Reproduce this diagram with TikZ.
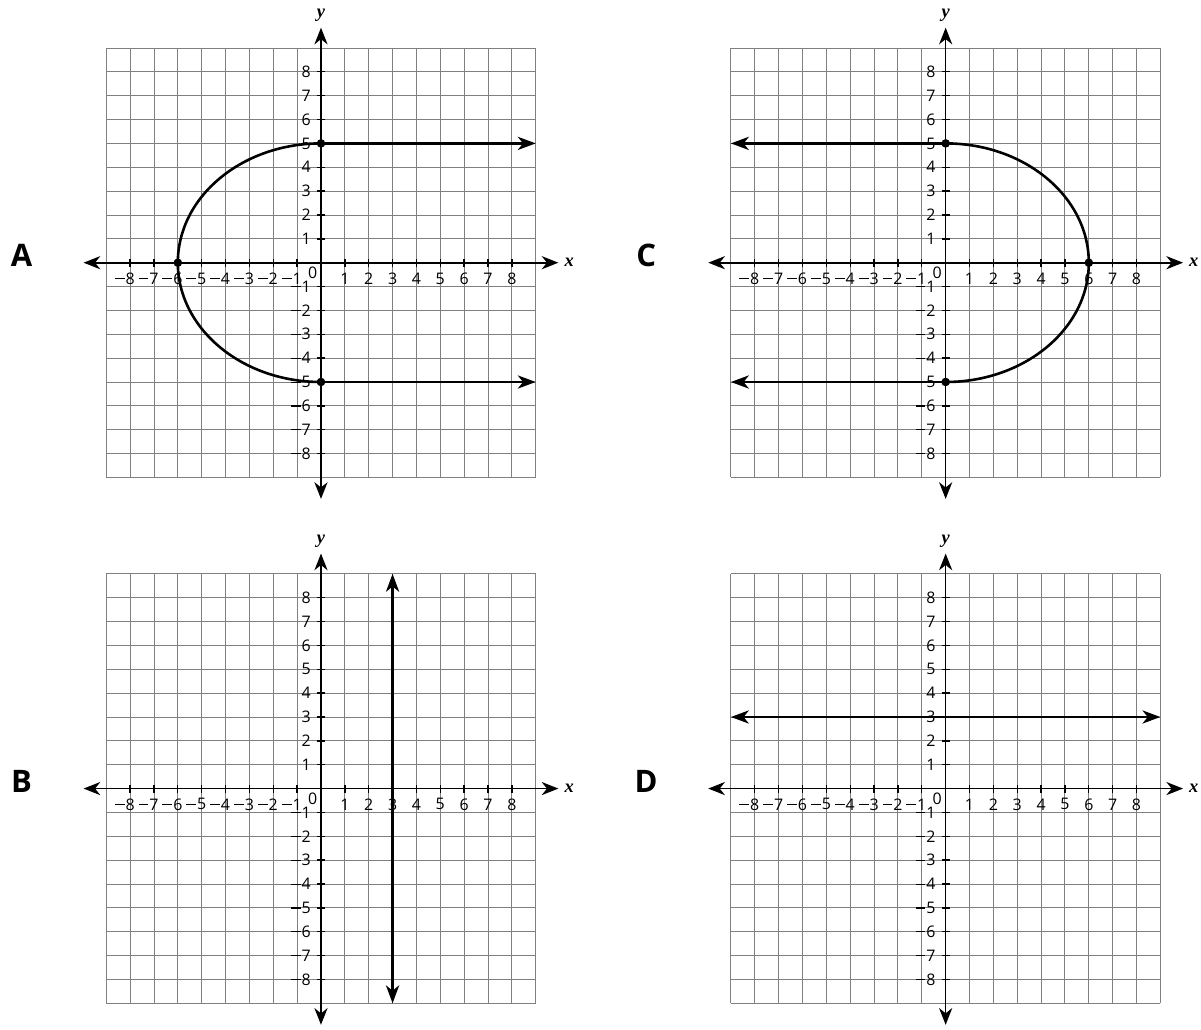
\documentclass[tikz,border=0pt]{standalone}
\usepackage{fontspec}
\setmainfont{Open Sans}
\newfontfamily\axfont{Liberation Serif}
\usetikzlibrary{arrows.meta}
\newcommand{\mns}{\rule[0.31em]{0.62em}{0.07em}\kern0.06em}
\tikzset{
  gridln/.style={draw=black!50, line width=1.1pt},
  axisln/.style={draw=black, line width=2pt,
    {Stealth[length=0.7cm,width=0.55cm,inset=0.22cm]}-{Stealth[length=0.7cm,width=0.55cm,inset=0.22cm]}},
  tickln/.style={draw=black, line width=1.6pt},
  curveln/.style={draw=black, line width=3.1pt},
  tipend/.style={-{Stealth[length=0.75cm,width=0.55cm,inset=0.22cm]}},
  tipboth/.style={{Stealth[length=0.75cm,width=0.55cm,inset=0.22cm]}-{Stealth[length=0.75cm,width=0.55cm,inset=0.22cm]}},
  ticklab/.style={inner sep=0pt, font=\fontsize{19}{20}\selectfont},
  axlab/.style={inner sep=0pt, font=\axfont\bfseries\itshape\fontsize{22}{23}\selectfont},
  letterlab/.style={inner sep=0pt, font=\bfseries\fontsize{37}{40}\selectfont},
  dotpt/.style={circle, fill=black, inner sep=0pt, minimum size=0.36cm},
}
\newcommand{\coordplane}[1]{%
  \draw[gridln] (-9,-9) grid (9,9);
  \foreach \i in {1,...,8} {
    \draw[tickln] (\i,-0.17) -- (\i,0.17);
    \draw[tickln] (-\i,-0.17) -- (-\i,0.17);
    \draw[tickln] (-0.17,\i) -- (0.17,\i);
    \draw[tickln] (-0.17,-\i) -- (0.17,-\i);
    \node[ticklab] (#1xp\i) at (\i,-0.66) {\i};
    \node[ticklab] (#1xn\i) at (-\i,-0.66) {\llap{\mns}\i};
    \node[ticklab, anchor=east] (#1yp\i) at (-0.42,\i) {\i};
    \node[ticklab, anchor=east] (#1yn\i) at (-0.42,-\i) {\mns\i};
  }
  \node[ticklab] (#1zero) at (-0.35,-0.43) {0};
  \coordinate (#1xl) at (-9.95,0);
  \coordinate (#1xr) at (9.95,0);
  \coordinate (#1yb) at (0,-9.9);
  \coordinate (#1yt) at (0,9.85);
  \draw[axisln] (#1xl) -- (#1xr);
  \draw[axisln] (#1yb) -- (#1yt);
  \node[axlab] (#1xlab) at (10.4,0) {x};
  \node[axlab] (#1ylab) at (0,10.38) {y};
}
\begin{document}
\begin{tikzpicture}
\useasboundingbox (-13.453,11.010) rectangle (36.882,-32.158);
\fill[white] (-13.453,11.010) rectangle (36.882,-32.158);

% ---------- A ----------
\begin{scope}
  \coordplane{A}
  \node[letterlab] (labA) at (-12.55,0.3) {A};
  \node[dotpt] (Atop) at (0,5) {};
  \node[dotpt] (Aleft) at (-6,0) {};
  \node[dotpt] (Abot) at (0,-5) {};
  \coordinate (Atopend) at (9,5);
  \coordinate (Abotend) at (9,-5);
  \draw[curveln] (Atop.center) arc[start angle=90, end angle=270, x radius=6, y radius=5];
  \draw[curveln, tipend] (Atop.center) -- (Atopend);
  \draw[curveln, tipend] (Abot.center) -- (Abotend);
\end{scope}

% ---------- C ----------
\begin{scope}[shift={(26.18,0)}]
  \coordplane{C}
  \node[letterlab] (labC) at (-12.55,0.3) {C};
  \node[dotpt] (Ctop) at (0,5) {};
  \node[dotpt] (Cright) at (6,0) {};
  \node[dotpt] (Cbot) at (0,-5) {};
  \coordinate (Ctopend) at (-9,5);
  \coordinate (Cbotend) at (-9,-5);
  \draw[curveln] (Ctop.center) arc[start angle=90, end angle=-90, x radius=6, y radius=5];
  \draw[curveln, tipend] (Ctop.center) -- (Ctopend);
  \draw[curveln, tipend] (Cbot.center) -- (Cbotend);
\end{scope}

% ---------- B ----------
\begin{scope}[shift={(0,-22.04)}]
  \coordplane{B}
  \node[letterlab] (labB) at (-12.55,0.3) {B};
  \coordinate (Bb) at (3,-9);
  \coordinate (Bt) at (3,9);
  \draw[curveln, tipboth] (Bb) -- (Bt);
\end{scope}

% ---------- D ----------
\begin{scope}[shift={(26.18,-22.04)}]
  \coordplane{D}
  \node[letterlab] (labD) at (-12.55,0.3) {D};
  \coordinate (Dl) at (-9,3);
  \coordinate (Dr) at (9,3);
  \draw[curveln, tipboth] (Dl) -- (Dr);
\end{scope}
\end{tikzpicture}
\end{document}
